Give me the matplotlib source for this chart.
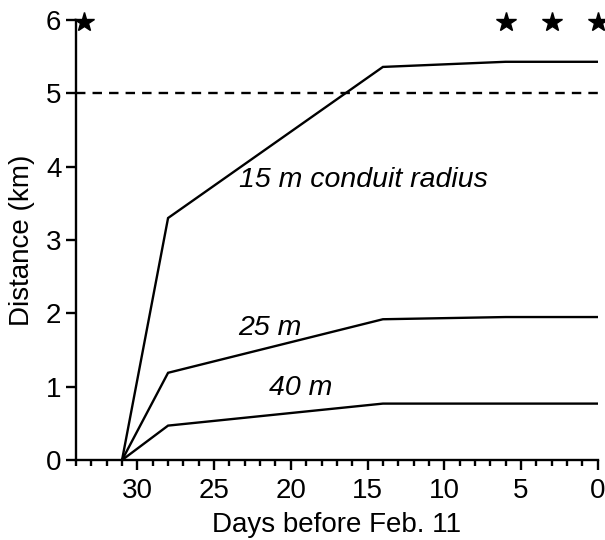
import numpy as np
from matplotlib import pyplot as plt
from matplotlib.ticker import MultipleLocator

plt.rcParams['font.family'] = ['Liberation Sans', 'DejaVu Sans']

# days before Feb. 11 and modelled distance (km) for each conduit radius
days = [31, 28, 14, 6, 0]
dist_15m = [0.0, 3.30, 5.36, 5.43, 5.43]
dist_25m = [0.0, 1.19, 1.92, 1.95, 1.95]
dist_40m = [0.0, 0.47, 0.77, 0.77, 0.77]
star_days = [33.5, 6, 3, 0]
star_dist = [5.97, 5.97, 5.97, 5.97]
threshold = 5.0

fig = plt.figure(figsize=(6.05, 5.4), dpi=100)
ax = fig.add_axes([0.1256, 0.148, 0.8624, 0.815])

for y in [dist_15m, dist_25m, dist_40m]:
    ax.plot(days, y, color='black', lw=1.7, solid_joinstyle='miter')
ax.axhline(threshold, color='black', lw=1.7, ls=(0, (4, 3)))
ax.plot(star_days, star_dist, ls='none', marker='*', ms=15, color='black',
        clip_on=False, zorder=5)

ax.text(23.4, 3.72, '15 m conduit radius', style='italic', fontsize=20.5)
ax.text(23.4, 1.70, '25 m', style='italic', fontsize=20.5)
ax.text(21.4, 0.89, '40 m', style='italic', fontsize=20.5)

ax.set_xlim(34, 0)
ax.set_ylim(0, 6)
ax.xaxis.set_major_locator(MultipleLocator(5))
ax.xaxis.set_minor_locator(MultipleLocator(1))
ax.yaxis.set_major_locator(MultipleLocator(1))
for s in ['top', 'right']:
    ax.spines[s].set_visible(False)
for s in ['left', 'bottom']:
    ax.spines[s].set_linewidth(1.7)
ax.tick_params(which='major', length=7, width=1.7, labelsize=20, direction='out')
ax.tick_params(axis='x', which='major', pad=6)
ax.tick_params(which='minor', length=4, width=1.7, direction='out')
ax.set_xlabel('Days before Feb. 11', fontsize=20, labelpad=6)
ax.set_ylabel('Distance (km)', fontsize=20, labelpad=8)

plt.savefig('out.png', dpi=100)
